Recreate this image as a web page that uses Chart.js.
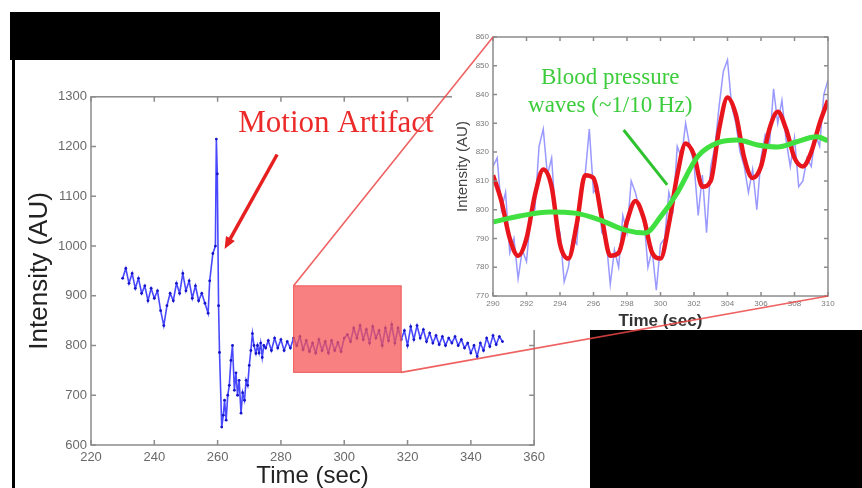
<!DOCTYPE html>
<html>
<head>
<meta charset="utf-8">
<script src="https://cdn.jsdelivr.net/npm/chart.js@4.4.1/dist/chart.umd.min.js"></script>
<style>
  html, body { margin: 0; padding: 0; background: #fff; }
  body { width: 862px; height: 488px; position: relative; overflow: hidden; }
  canvas, .blk { position: absolute; }
  #mainChart { left: 20px; top: 85px; }
  #insetChart { left: 452px; top: 28px; background: #fff; }
  #overlay { left: 0; top: 0; pointer-events: none; }
  .blk { background: #000; }
</style>
</head>
<body>
<canvas id="mainChart" width="530" height="403"></canvas>
<canvas id="insetChart" width="390" height="302"></canvas>
<div class="blk" style="left:10px;top:12px;width:430px;height:48px"></div>
<div class="blk" style="left:12px;top:60px;width:3px;height:428px"></div>
<div class="blk" style="left:590px;top:330px;width:272px;height:158px"></div>
<canvas id="overlay" width="862" height="488"></canvas>
<script>
// raw intensity trace (sec, AU)
const mainTime = [
  230, 231, 232, 233, 234, 235, 236, 237, 238, 239, 240, 241, 242, 243, 244,
  245, 246, 247, 248, 249, 250, 251, 252, 253, 254, 255, 256, 257, 257.5,
  258.5, 259.3, 259.6, 259.9, 260.3, 260.6, 261.3, 261.8, 262.2, 262.7, 263.2,
  263.7, 264.2, 264.7, 265.3, 265.8, 266.3, 266.8, 267.4, 267.9, 268.5, 269,
  269.5, 270, 270.5, 271, 271.5, 272.1, 272.6, 273.1, 273.6, 274.1, 274.6, 275.2,
  276, 277, 278, 279, 280, 281, 282, 283, 284, 285, 286, 287, 288, 289, 290,
  291, 292, 293, 294, 295, 296, 297, 298, 299, 300, 301, 302, 303, 304, 305,
  306, 307, 308, 309, 310, 311, 312, 313, 314, 315, 316, 317, 318, 319, 320,
  321, 322, 323, 324, 325, 326, 327, 328, 329, 330, 331, 332, 333, 334, 335,
  336, 337, 338, 339, 340, 341, 342, 343, 344, 345, 346, 347, 348, 349, 350
];
const mainIntensity = [
  935, 955, 925, 945, 915, 935, 905, 920, 890, 915, 895, 910, 870, 840, 880,
  905, 890, 925, 905, 945, 910, 930, 895, 920, 890, 905, 885, 865, 930,
  985, 1000, 1215, 1145, 880, 786, 636, 660, 690, 650, 700,
  720, 770, 800, 710, 745, 700, 730, 664, 705, 690, 730,
  720, 760, 790, 824, 800, 784, 800, 785, 805, 776, 800, 795,
  810, 790, 815, 795, 812, 790, 808, 795, 815, 800, 818, 792, 810, 788, 805,
  785, 812, 790, 808, 785, 810, 790, 806, 788, 815, 822, 808, 835, 815, 840,
  812, 832, 805, 838, 815, 830, 800, 835, 810, 842, 805, 835, 812, 830, 800,
  838, 812, 840, 815, 832, 808, 825, 805, 820, 802, 818, 800, 815, 805, 818,
  800, 812, 795, 805, 785, 800, 778, 805, 790, 815, 798, 820, 802, 818, 808
];
const mainXTicks = [220, 240, 260, 280, 300, 320, 340, 360];
const mainYTicks = [600, 700, 800, 900, 1000, 1100, 1200, 1300];

// zoomed segment: raw samples, respiratory/cardiac fit and slow wave
const insetTime = [
  290, 290.25, 290.5, 290.75, 291, 291.25, 291.5, 291.75, 292, 292.25, 292.5, 292.75,
  293, 293.25, 293.5, 293.75, 294, 294.25, 294.5, 294.75, 295, 295.25, 295.5, 295.75,
  296, 296.25, 296.5, 296.75, 297, 297.25, 297.5, 297.75, 298, 298.25, 298.5, 298.75,
  299, 299.25, 299.5, 299.75, 300, 300.25, 300.5, 300.75, 301, 301.25, 301.5, 301.75,
  302, 302.25, 302.5, 302.75, 303, 303.25, 303.5, 303.75, 304, 304.25, 304.5, 304.75,
  305, 305.25, 305.5, 305.75, 306, 306.25, 306.5, 306.75, 307, 307.25, 307.5, 307.75,
  308, 308.25, 308.5, 308.75, 309, 309.25, 309.5, 309.75, 310
];
const insetRaw = [
  815, 818, 800, 806, 785, 790, 776, 786, 782, 798, 800, 822,
  828, 812, 818, 796, 792, 775, 780, 790, 788, 808, 812, 828,
  806, 808, 792, 790, 774, 786, 780, 798, 792, 810, 806, 800,
  798, 780, 786, 772, 788, 790, 806, 800, 822, 818, 830, 822,
  816, 798, 812, 792, 815, 822, 836, 848, 852, 836, 830, 820,
  815, 806, 814, 800, 818, 826, 822, 842, 830, 838, 824, 815,
  825, 808, 810, 818, 815, 826, 822, 840, 845
];
const fitTime = [
  290, 290.5, 291, 291.5, 292, 292.5, 293, 293.5, 294, 294.5, 295, 295.5, 296, 296.5,
  297, 297.5, 298, 298.5, 299, 299.5, 300, 300.5, 301, 301.5, 302, 302.5, 303, 303.5,
  304, 304.5, 305, 305.5, 306, 306.5, 307, 307.5, 308, 308.5, 309, 309.5, 310
];
const fitWave = [
  812, 803, 790, 784, 790, 805, 814, 808, 788, 783, 795, 812, 811, 797,
  784, 785, 796, 803, 797, 785, 783, 795, 812, 823, 819, 808, 810, 828,
  839, 833, 818, 811, 815, 828, 834, 828, 818, 815, 820, 830, 838
];
const bpTime = [290, 291.6, 293.4, 294.9, 296.4, 297.9, 299.1, 300, 301, 302.2, 303.4, 304.6, 305.8, 307, 308.1, 309.3, 310];
const bpWave = [795.7, 797.8, 799.2, 798.8, 796.4, 792.9, 791.9, 797.5, 805.8, 818.3, 823.2, 824.2, 822.5, 821.8, 823.5, 825.3, 824];
const insetXTicks = [290, 292, 294, 296, 298, 300, 302, 304, 306, 308, 310];
const insetYTicks = [770, 780, 790, 800, 810, 820, 830, 840, 850, 860];

// highlighted window on the main trace
const zoomStart = 284, zoomEnd = 318, zoomLow = 746, zoomHigh = 920;

const sans = 'Arial, "Liberation Sans", sans-serif';
const serif = '"Liberation Serif", "Times New Roman", serif';

function pairs(xs, ys) {
  return xs.map((t, i) => ({ x: t, y: ys[i] }));
}
const plain = v => String(v);

// matlab-like box with inward ticks
function drawFrame(chart, len) {
  const { ctx, chartArea: a, scales: { x, y } } = chart;
  ctx.save();
  ctx.strokeStyle = '#8c8c8c';
  ctx.lineWidth = 1.5;
  ctx.strokeRect(a.left, a.top, a.right - a.left, a.bottom - a.top);
  ctx.beginPath();
  x.ticks.forEach(t => {
    const px = x.getPixelForValue(t.value);
    ctx.moveTo(px, a.bottom); ctx.lineTo(px, a.bottom - len);
    ctx.moveTo(px, a.top); ctx.lineTo(px, a.top + len);
  });
  y.ticks.forEach(t => {
    const py = y.getPixelForValue(t.value);
    ctx.moveTo(a.left, py); ctx.lineTo(a.left + len, py);
    ctx.moveTo(a.right, py); ctx.lineTo(a.right - len, py);
  });
  ctx.stroke();
  ctx.restore();
}

function arrow(ctx, x1, y1, x2, y2, color, width, head) {
  const ang = Math.atan2(y2 - y1, x2 - x1);
  ctx.save();
  ctx.strokeStyle = color;
  ctx.fillStyle = color;
  ctx.lineWidth = width;
  ctx.beginPath();
  ctx.moveTo(x1, y1);
  ctx.lineTo(x2 - Math.cos(ang) * head * 0.8, y2 - Math.sin(ang) * head * 0.8);
  ctx.stroke();
  if (head > 0) {
    ctx.beginPath();
    ctx.moveTo(x2, y2);
    ctx.lineTo(x2 - head * Math.cos(ang - 0.4), y2 - head * Math.sin(ang - 0.4));
    ctx.lineTo(x2 - head * Math.cos(ang + 0.4), y2 - head * Math.sin(ang + 0.4));
    ctx.closePath();
    ctx.fill();
  }
  ctx.restore();
}

const mainDecor = {
  id: 'mainDecor',
  afterDatasetsDraw(chart) {
    const { ctx, scales: { x, y } } = chart;
    drawFrame(chart, 5);
    // zoom window
    ctx.save();
    ctx.fillStyle = 'rgba(245, 85, 85, 0.75)';
    ctx.strokeStyle = 'rgba(240, 80, 80, 0.9)';
    const l = x.getPixelForValue(zoomStart), r = x.getPixelForValue(zoomEnd);
    const t = y.getPixelForValue(zoomHigh), b = y.getPixelForValue(zoomLow);
    ctx.fillRect(l, t, r - l, b - t);
    ctx.strokeRect(l, t, r - l, b - t);
    // motion artifact label
    ctx.fillStyle = '#ec2a2a';
    ctx.font = '31px ' + serif;
    ctx.textAlign = 'center';
    ctx.textBaseline = 'middle';
    ctx.fillText('Motion Artifact', x.getPixelForValue(297.4), y.getPixelForValue(1246));
    ctx.restore();
    arrow(ctx, x.getPixelForValue(278.8), y.getPixelForValue(1184),
      x.getPixelForValue(262.2), y.getPixelForValue(994), '#e62020', 3.5, 13);
  }
};

const insetDecor = {
  id: 'insetDecor',
  afterDatasetsDraw(chart) {
    const { ctx, scales: { x, y } } = chart;
    drawFrame(chart, 4);
    ctx.save();
    ctx.fillStyle = '#3ccc3c';
    ctx.font = '23px ' + serif;
    ctx.textAlign = 'center';
    ctx.textBaseline = 'middle';
    ctx.fillText('Blood pressure', x.getPixelForValue(297.0), y.getPixelForValue(845.8));
    ctx.fillText('waves (~1/10 Hz)', x.getPixelForValue(297.0), y.getPixelForValue(836));
    ctx.restore();
    arrow(ctx, x.getPixelForValue(297.8), y.getPixelForValue(827.7),
      x.getPixelForValue(300.4), y.getPixelForValue(808.6), '#2fc22f', 3, 0);
  }
};

const mainChart = new Chart(document.getElementById('mainChart'), {
  type: 'line',
  data: {
    datasets: [{
      data: pairs(mainTime, mainIntensity),
      borderColor: 'rgba(40, 40, 255, 0.85)',
      borderWidth: 1.6,
      pointRadius: 1.4,
      pointBackgroundColor: '#1414c8',
      pointBorderWidth: 0,
      tension: 0
    }]
  },
  options: {
    responsive: false,
    animation: false,
    events: [],
    layout: { padding: { top: 10, right: 14, left: 0, bottom: 0 } },
    plugins: { legend: { display: false }, tooltip: { enabled: false } },
    scales: {
      x: {
        type: 'linear', min: 220, max: 360,
        afterBuildTicks: s => { s.ticks = mainXTicks.map(v => ({ value: v })); },
        afterFit: s => { s.height = 43; },
        grid: { display: false, drawTicks: false },
        border: { display: false },
        ticks: { callback: plain, color: '#6a6a6a', font: { family: sans, size: 13 }, padding: 5, maxRotation: 0, autoSkip: false },
        title: { display: true, text: 'Time (sec)', color: '#222', font: { family: sans, size: 24, lineHeight: 1 }, padding: 0 }
      },
      y: {
        type: 'linear', min: 600, max: 1300,
        afterBuildTicks: s => { s.ticks = mainYTicks.map(v => ({ value: v })); },
        afterFit: s => { s.width = 71; },
        grid: { display: false, drawTicks: false },
        border: { display: false },
        ticks: { callback: plain, color: '#6a6a6a', font: { family: sans, size: 13 }, padding: 4, autoSkip: false },
        title: { display: true, text: 'Intensity (AU)', color: '#222', font: { family: sans, size: 26 }, padding: { top: 4, bottom: 0 } }
      }
    }
  },
  plugins: [mainDecor]
});

const insetChart = new Chart(document.getElementById('insetChart'), {
  type: 'line',
  data: {
    datasets: [
      {
        data: pairs(bpTime, bpWave),
        borderColor: '#40e040',
        borderWidth: 5,
        pointRadius: 0,
        cubicInterpolationMode: 'monotone',
        order: 0
      },
      {
        data: pairs(fitTime, fitWave),
        borderColor: '#e8161c',
        borderWidth: 4.5,
        pointRadius: 0,
        cubicInterpolationMode: 'monotone',
        order: 1
      },
      {
        data: pairs(insetTime, insetRaw),
        borderColor: 'rgba(110, 110, 255, 0.7)',
        borderWidth: 1.5,
        pointRadius: 0,
        tension: 0,
        order: 2
      }
    ]
  },
  options: {
    responsive: false,
    animation: false,
    events: [],
    layout: { padding: { top: 9, right: 14, left: 0, bottom: 0 } },
    plugins: { legend: { display: false }, tooltip: { enabled: false } },
    scales: {
      x: {
        type: 'linear', min: 290, max: 310,
        afterBuildTicks: s => { s.ticks = insetXTicks.map(v => ({ value: v })); },
        afterFit: s => { s.height = 34; },
        grid: { display: false, drawTicks: false },
        border: { display: false },
        ticks: { callback: plain, color: '#7a7a7a', font: { family: sans, size: 8 }, padding: 3, maxRotation: 0, autoSkip: false },
        title: { display: true, text: 'Time (sec)', color: '#333', font: { family: sans, size: 17, weight: 'bold', lineHeight: 1 }, padding: 0 }
      },
      y: {
        type: 'linear', min: 770, max: 860,
        afterBuildTicks: s => { s.ticks = insetYTicks.map(v => ({ value: v })); },
        afterFit: s => { s.width = 41; },
        grid: { display: false, drawTicks: false },
        border: { display: false },
        ticks: { callback: plain, color: '#7a7a7a', font: { family: sans, size: 8 }, padding: 4, autoSkip: false },
        title: { display: true, text: 'Intensity (AU)', color: '#444', font: { family: sans, size: 15 }, padding: { top: 2, bottom: 0 } }
      }
    }
  },
  plugins: [insetDecor]
});

// lines joining the zoom window to the inset frame
function drawConnectors() {
  const mc = mainChart.canvas, ic = insetChart.canvas;
  const ctx = document.getElementById('overlay').getContext('2d');
  const xs = mainChart.scales.x, ys = mainChart.scales.y;
  const a = insetChart.chartArea;
  const boxL = mc.offsetLeft + xs.getPixelForValue(zoomStart);
  const boxR = mc.offsetLeft + xs.getPixelForValue(zoomEnd);
  const boxT = mc.offsetTop + ys.getPixelForValue(zoomHigh);
  const boxB = mc.offsetTop + ys.getPixelForValue(zoomLow);
  ctx.strokeStyle = 'rgba(236, 70, 70, 0.85)';
  ctx.lineWidth = 1.6;
  ctx.beginPath();
  ctx.moveTo(boxL, boxT);
  ctx.lineTo(ic.offsetLeft + a.left, ic.offsetTop + a.top);
  ctx.moveTo(boxR, boxB);
  ctx.lineTo(ic.offsetLeft + a.right, ic.offsetTop + a.bottom);
  ctx.stroke();
}
drawConnectors();
</script>
</body>
</html>
